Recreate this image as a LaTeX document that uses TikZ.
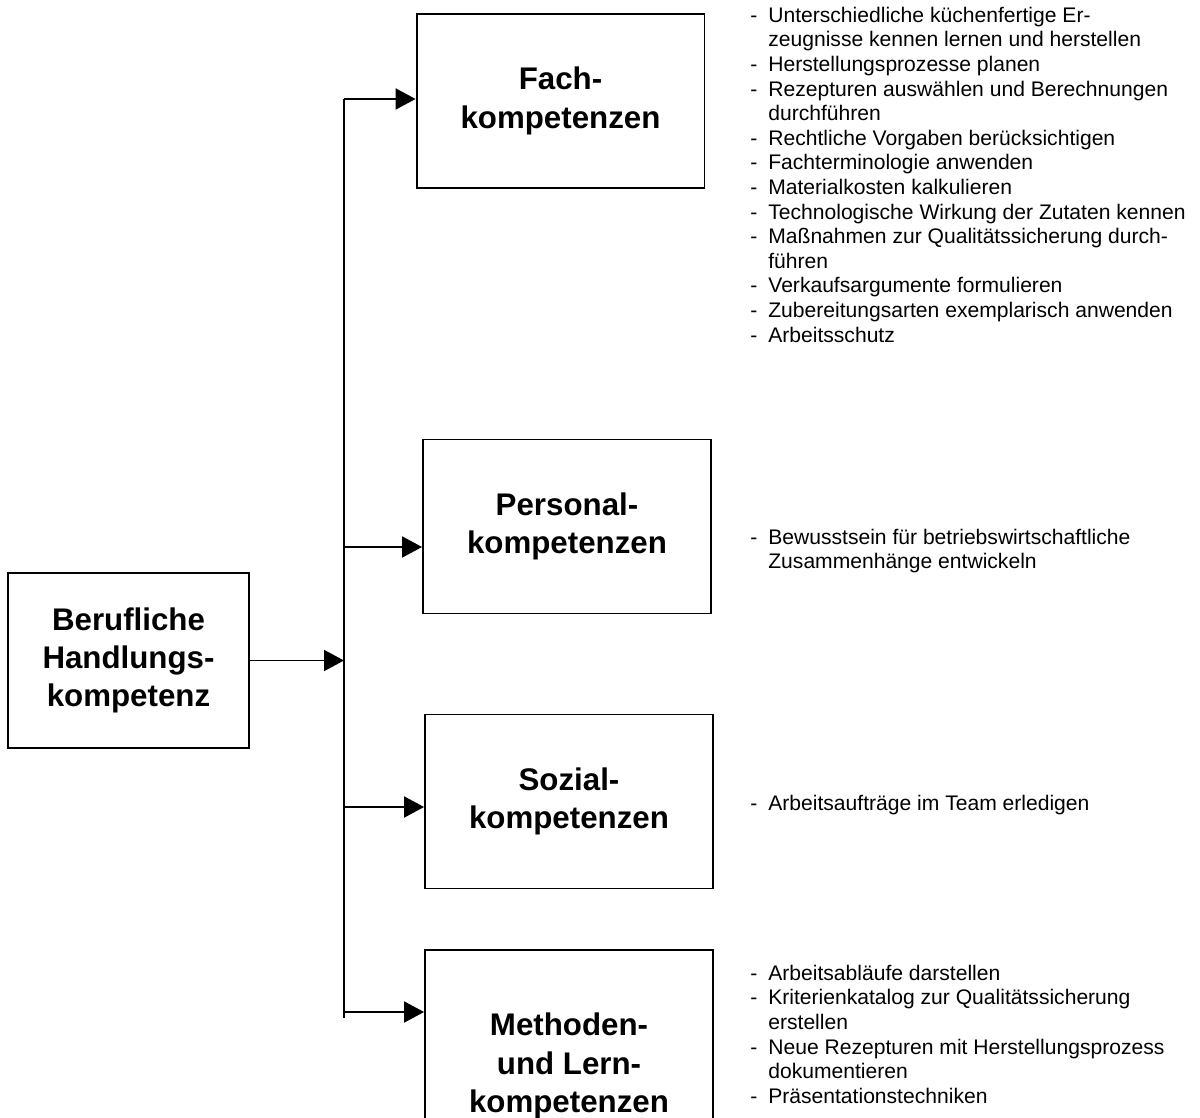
\documentclass[tikz,border=0pt]{standalone}
\usepackage{fontspec}
\setmainfont{Liberation Sans}
\usetikzlibrary{arrows.meta}
\newcommand{\itm}{\makebox[0.36cm][l]{-}}
\newcommand{\cnt}{\hspace*{0.36cm}}

\begin{document}
\begin{tikzpicture}[x=0.02cm,y=-0.02cm,
  box/.style={draw,line width=1.1pt,minimum width=5.76cm,minimum height=3.48cm,align=center,inner sep=0pt,font=\bfseries\fontsize{17.8}{21.8}\selectfont},
  lst/.style={anchor=north west,align=left,inner sep=0pt,font=\fontsize{12}{14}\selectfont},
  arr/.style={line width=1.1pt,-{Triangle[length=0.4cm,width=0.42cm]}}]
\useasboundingbox (0,0) rectangle (1200,1118);
\clip (0,0) rectangle (1200,1118);

\node [box,minimum width=4.82cm,minimum height=3.5cm] (beruf) at (128.5,660.5) {Berufliche\\Handlungs-\\kompetenz};
\node [box] (fach) at (560.5,101) {Fach-\\kompetenzen};
\node [box] (pers) at (567,526.5) {Personal-\\kompetenzen};
\node [box] (soz) at (569,801.5) {Sozial-\\kompetenzen};
\node [box,minimum height=4.64cm] (meth) at (569,1066) {Methoden-\\und Lern-\\kompetenzen};

\coordinate (bustop) at (344,99);
\coordinate (bus2) at (344,547);
\coordinate (bus3) at (344,807);
\coordinate (bus4) at (344,1012);
\coordinate (busend) at (344,1018);

\draw [line width=1.1pt] (bustop) -- (busend);
\draw [arr] (beruf.east) -- (beruf.east -| bustop);
\draw [arr] (bustop) -- (bustop -| fach.west);
\draw [arr] (bus2) -- (bus2 -| pers.west);
\draw [arr] (bus3) -- (bus3 -| soz.west);
\draw [arr] (bus4) -- (bus4 -| meth.west);

\node [lst] (fachlst) at (750,4.7) {\strut\itm Unterschiedliche küchenfertige Er-\\
\cnt zeugnisse kennen lernen und herstellen\\
\itm Herstellungsprozesse planen\\
\itm Rezepturen auswählen und Berechnungen\\
\cnt durchführen\\
\itm Rechtliche Vorgaben berücksichtigen\\
\itm Fachterminologie anwenden\\
\itm Materialkosten kalkulieren\\
\itm Technologische Wirkung der Zutaten kennen\\
\itm Maßnahmen zur Qualitätssicherung durch-\\
\cnt führen\\
\itm Verkaufsargumente formulieren\\
\itm Zubereitungsarten exemplarisch anwenden\\
\itm Arbeitsschutz};
\node [lst] (perslst) at (750,526.7) {\strut\itm Bewusstsein für betriebswirtschaftliche\\
\cnt Zusammenhänge entwickeln};
\node [lst] (sozlst) at (750,792.7) {\strut\itm Arbeitsaufträge im Team erledigen};
\node [lst] (methlst) at (750,962.7) {\strut\itm Arbeitsabläufe darstellen\\
\itm Kriterienkatalog zur Qualitätssicherung\\
\cnt erstellen\\
\itm Neue Rezepturen mit Herstellungsprozess\\
\cnt dokumentieren\\
\itm Präsentationstechniken};
\end{tikzpicture}
\end{document}
